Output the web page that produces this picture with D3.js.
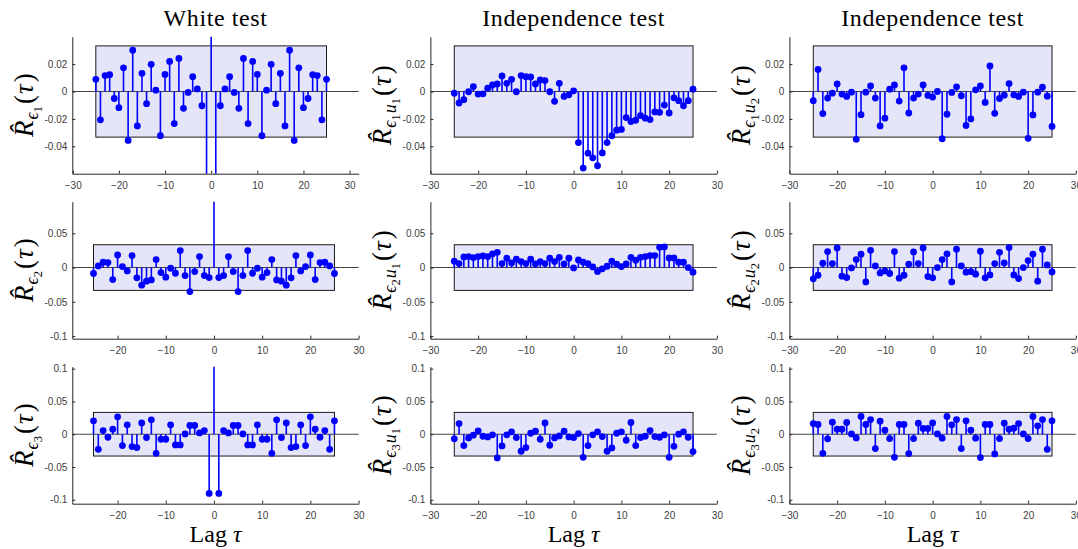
<!DOCTYPE html>
<html>
<head>
<meta charset="utf-8">
<script src="https://cdn.jsdelivr.net/npm/d3@7"></script>
<style>
  body { margin: 0; background: #fff; }
</style>
</head>
<body>
<div id="canvas"></div>
<script>
"use strict"

/* Lags shown in every panel */
let lags = d3.range(-25, 26);

/* 95% confidence bound (half height of the shaded box) */
let confBound = 0.0333;

/* Column titles */
let colTitles = ["White test", "Independence test", "Independence test"];

/* Autocorrelation of residual 1 and cross correlations with inputs u1, u2 (lag -25..25) */
let rE1 = [0.0089, -0.0207, 0.0116, 0.0123, -0.0051, -0.0118, 0.0173, -0.0357, 0.0301, -0.0251,
    0.0133, -0.0089, 0.0198, 0.0010, -0.0323, 0.0125, 0.0219, -0.0234, 0.0241, -0.0123,
    -0.0007, 0.0108, 0.0019, -0.0104, -0.0900, 1, -0.0900, -0.0104, 0.0019, 0.0108,
    -0.0007, -0.0123, 0.0241, -0.0234, 0.0219, 0.0125, -0.0323, 0.0010, 0.0198, -0.0089,
    0.0133, -0.0251, 0.0301, -0.0357, 0.0173, -0.0118, -0.0051, 0.0123, 0.0116, -0.0207, 0.0089];
let rE1U1 = [-0.0012, -0.0084, -0.0060, -0.0002, 0.0036, -0.0019, -0.0017, 0.0024, 0.0048, 0.0055,
    0.0113, 0.0060, 0.0089, -0.0002, 0.0116, 0.0108, 0.0106, 0.0055, 0.0084, 0.0080,
    -0.0002, -0.0072, 0.0060, -0.0036, -0.0024, 0.0005, -0.0373, -0.0559, -0.0450, -0.0484,
    -0.0542, -0.0448, -0.0373, -0.0323, -0.0282, -0.0277, -0.0190, -0.0219, -0.0210, -0.0176,
    -0.0195, -0.0205, -0.0149, -0.0152, -0.0099, -0.0157, -0.0046, -0.0067, -0.0104, -0.0067, 0.0017];
let rE1U2 = [-0.0067, 0.0161, -0.0161, -0.0048, -0.0012, 0.0055, -0.0019, -0.0036, -0.0005, -0.0349,
    -0.0169, -0.0005, 0.0041, -0.0048, -0.0251, -0.0195, 0.0017, 0.0048, -0.0070, 0.0173,
    -0.0157, -0.0048, -0.0019, 0.0048, -0.0029, -0.0041, 0.0000, -0.0345, -0.0166, -0.0007,
    0.0034, -0.0031, -0.0248, -0.0200, 0.0012, 0.0041, -0.0080, 0.0186, -0.0159, -0.0051,
    -0.0027, 0.0058, -0.0024, -0.0036, -0.0005, -0.0342, -0.0171, -0.0005, 0.0031, -0.0034, -0.0255];

/* Residual 2 */
let rE2 = [-0.0087, 0.0024, 0.0078, 0.0073, -0.0175, 0.0184, 0.0015, -0.0049, 0.0175, -0.0150,
    -0.0257, -0.0199, -0.0180, 0.0117, -0.0073, -0.0141, -0.0010, -0.0083, 0.0248, -0.0117,
    -0.0350, -0.0058, 0.0160, -0.0117, -0.0146, 1, -0.0146, -0.0117, 0.0160, -0.0058,
    -0.0350, -0.0117, 0.0248, -0.0083, -0.0010, -0.0141, -0.0073, 0.0117, -0.0180, -0.0199,
    -0.0257, -0.0150, 0.0175, -0.0049, 0.0015, 0.0184, -0.0175, 0.0073, 0.0078, 0.0024, -0.0087];
let rE2U1 = [0.0092, 0.0058, 0.0155, 0.0160, 0.0146, 0.0160, 0.0170, 0.0160, 0.0199, 0.0223,
    0.0058, 0.0136, 0.0068, 0.0121, 0.0087, 0.0058, 0.0121, 0.0053, 0.0087, 0.0058,
    0.0136, 0.0087, 0.0150, 0.0053, 0.0136, -0.0005, 0.0112, 0.0078, 0.0058, 0.0010,
    -0.0058, -0.0019, 0.0019, 0.0092, 0.0049, 0.0015, 0.0053, 0.0150, 0.0107, 0.0150,
    0.0160, 0.0175, 0.0175, 0.0296, 0.0301, 0.0141, 0.0141, 0.0078, 0.0078, 0.0000, -0.0068];
let rE2U2 = [-0.0165, -0.0112, 0.0063, 0.0233, 0.0058, 0.0286, -0.0126, -0.0146, -0.0005, 0.0117,
    0.0194, -0.0209, 0.0252, 0.0024, -0.0078, -0.0049, -0.0087, 0.0233, -0.0155, -0.0112,
    0.0049, 0.0228, 0.0058, 0.0286, -0.0131, -0.0150, 0.0000, 0.0117, 0.0199, -0.0209,
    0.0267, 0.0024, -0.0068, -0.0058, -0.0097, 0.0238, -0.0150, -0.0107, 0.0058, 0.0223,
    0.0068, 0.0291, -0.0107, -0.0160, 0.0000, 0.0102, 0.0194, -0.0199, 0.0267, 0.0039, -0.0063];

/* Residual 3 */
let rE3 = [0.0204, -0.0230, 0.0056, -0.0046, 0.0077, 0.0265, -0.0173, 0.0143, -0.0189, -0.0204,
    0.0173, -0.0051, 0.0219, -0.0291, -0.0077, -0.0077, 0.0143, -0.0163, -0.0163, 0.0005,
    0.0133, 0.0133, 0.0020, 0.0056, -0.0903, 1, -0.0903, 0.0056, 0.0020, 0.0133,
    0.0133, 0.0005, -0.0163, -0.0163, 0.0143, -0.0077, -0.0077, -0.0291, 0.0219, -0.0051,
    0.0173, -0.0204, -0.0189, 0.0143, -0.0173, 0.0265, 0.0077, -0.0046, 0.0056, -0.0230, 0.0204];
let rE3U1 = [-0.0071, 0.0163, -0.0173, -0.0056, -0.0015, 0.0051, -0.0031, -0.0041, -0.0010, -0.0362,
    -0.0179, -0.0010, 0.0036, -0.0051, -0.0260, -0.0204, 0.0015, 0.0046, -0.0077, 0.0173,
    -0.0168, -0.0056, -0.0026, 0.0046, -0.0041, -0.0051, 0.0010, -0.0352, -0.0173, -0.0010,
    0.0036, -0.0036, -0.0260, -0.0209, 0.0015, 0.0036, -0.0092, 0.0179, -0.0173, -0.0051,
    -0.0031, 0.0056, -0.0036, -0.0046, -0.0010, -0.0352, -0.0184, 0.0000, 0.0036, -0.0046, -0.0265];
let rE3U2 = [0.0163, 0.0148, -0.0291, -0.0071, 0.0184, 0.0077, 0.0077, 0.0179, 0.0005, -0.0056,
    0.0270, 0.0148, 0.0224, -0.0219, 0.0199, 0.0061, -0.0066, -0.0352, 0.0148, 0.0148,
    -0.0296, -0.0066, 0.0168, 0.0087, 0.0087, 0.0173, 0.0005, -0.0061, 0.0270, 0.0143,
    0.0224, -0.0219, 0.0204, 0.0061, -0.0061, -0.0357, 0.0148, 0.0148, -0.0301, -0.0066,
    0.0168, 0.0077, 0.0092, 0.0163, 0.0005, -0.0066, 0.0270, 0.0128, 0.0224, -0.0230, 0.0204];

/* Tick values */
let xTickValues = [-30, -20, -10, 0, 10, 20, 30];
let yTicksRow1 = [-0.04, -0.02, 0, 0.02];
let yTicksRow2 = [-0.1, -0.05, 0, 0.05];
let yTicksRow3 = [-0.1, -0.05, 0, 0.05, 0.1];

/* Grid of panels: row by row */
let panelValues = [[rE1, rE1U1, rE1U2], [rE2, rE2U1, rE2U2], [rE3, rE3U1, rE3U2]];
let rowYTicks = [yTicksRow1, yTicksRow2, yTicksRow3];
let rowYDomains = [[-0.06, 0.04], [-0.1038, 0.0961], [-0.106, 0.103]];

/* Configuration: drawing */
let svgWidth = 1078;
let svgHeight = 549;
let colLeft = [72.3, 430.4, 789.4];
let rowTop = [36.7, 201.7, 366.7];
let plotWidth = 286.5;
let plotHeight = 137;
let serif = "'Liberation Serif', 'DejaVu Serif', serif";

let svg = d3.select("#canvas")
    .append("svg")
    .attr("width", svgWidth)
    .attr("height", svgHeight);

/* x range differs slightly for the first column */
function xDomainFor(row, col) {
    if (col == 0 && row == 0) {
        return [-30.1, 32];
    }
    if (col == 0) {
        return [-29.4, 30.05];
    }
    return [-30, 30];
}

/* y label R-hat with subscripts, rotated */
function yLabel(x, y, parts) {
    let t = svg.append("text")
        .attr("transform", "translate(" + x + "," + y + ") rotate(-90)")
        .attr("text-anchor", "middle")
        .attr("font-family", serif)
        .attr("fill", "#000");
    let prev = 0;
    parts.forEach(function (p) {
        t.append("tspan")
            .attr("dx", p.gap || 0)
            .attr("dy", p.shift - prev)
            .attr("font-size", p.size)
            .attr("font-style", p.italic ? "italic" : "normal")
            .text(p.text);
        prev = p.shift;
    });
}

for (let r = 0; r < 3; r++) {
    for (let c = 0; c < 3; c++) {
        let x0 = colLeft[c];
        let y0 = rowTop[r];
        let values = panelValues[r][c];

        let xScale = d3.scaleLinear()
            .domain(xDomainFor(r, c))
            .range([x0, x0 + plotWidth]);
        let yScale = d3.scaleLinear()
            .domain(rowYDomains[r])
            .range([y0 + plotHeight, y0]);

        let clipId = "clip" + r + c;
        svg.append("clipPath")
            .attr("id", clipId)
            .append("rect")
            .attr("x", x0)
            .attr("y", y0)
            .attr("width", plotWidth)
            .attr("height", plotHeight);

        let g = svg.append("g").attr("clip-path", "url(#" + clipId + ")");

        /* confidence box */
        g.append("rect")
            .attr("x", xScale(-25))
            .attr("y", yScale(confBound))
            .attr("width", xScale(25) - xScale(-25))
            .attr("height", yScale(-confBound) - yScale(confBound))
            .attr("fill", "#e5e5fa")
            .attr("stroke", "#1a1a1a")
            .attr("stroke-width", 1);

        /* zero line */
        g.append("line")
            .attr("x1", x0)
            .attr("x2", x0 + plotWidth)
            .attr("y1", yScale(0))
            .attr("y2", yScale(0))
            .attr("stroke", "#444")
            .attr("stroke-width", 1.1);

        /* stems */
        g.selectAll(".stem")
            .data(values)
            .join("line")
            .attr("class", "stem")
            .attr("x1", function (d, i) { return xScale(lags[i]); })
            .attr("x2", function (d, i) { return xScale(lags[i]); })
            .attr("y1", yScale(0))
            .attr("y2", function (d) { return yScale(d); })
            .attr("stroke", "#0000ff")
            .attr("stroke-width", 1.6);

        /* markers */
        g.selectAll(".dot")
            .data(values)
            .join("circle")
            .attr("class", "dot")
            .attr("cx", function (d, i) { return xScale(lags[i]); })
            .attr("cy", function (d) { return yScale(d); })
            .attr("r", 3.4)
            .attr("fill", "#0000ff");

        /* axes: left and bottom only, ticks inward */
        let xTicks = xTickValues.filter(function (v) {
            let dm = xScale.domain();
            return v >= dm[0] && v <= dm[1];
        });
        let xAxis = svg.append("g")
            .attr("transform", "translate(0," + (y0 + plotHeight) + ")")
            .call(d3.axisBottom(xScale).tickValues(xTicks).tickSizeInner(-3).tickSizeOuter(0).tickPadding(8));
        let yAxis = svg.append("g")
            .attr("transform", "translate(" + x0 + ",0)")
            .call(d3.axisLeft(yScale).tickValues(rowYTicks[r]).tickSizeInner(-3).tickSizeOuter(0).tickPadding(5)
                .tickFormat(function (d) { return d == 0 ? "0" : String(d); }));

        [xAxis, yAxis].forEach(function (a) {
            a.select(".domain").attr("stroke", "#262626");
            a.selectAll(".tick line").attr("stroke", "#262626");
            a.selectAll(".tick text")
                .attr("fill", "#404040")
                .attr("font-family", "'Liberation Sans', Arial, sans-serif")
                .attr("font-size", 10);
        });

        /* y label */
        let k = String(r + 1);
        let parts = [
            { text: "R\u0302", size: 27, shift: 0, italic: true },
            { text: "\u03f5", size: 18, shift: 5, italic: true, gap: 1 },
            { text: k, size: 12.5, shift: 9, italic: false }
        ];
        if (c > 0) {
            parts.push({ text: "u", size: 18, shift: 5, italic: true, gap: 1 });
            parts.push({ text: String(c), size: 12.5, shift: 9, italic: false });
        }
        parts.push({ text: "(", size: 27, shift: 0, italic: false, gap: 2 });
        parts.push({ text: "\u03c4", size: 27, shift: 0, italic: true, gap: 1 });
        parts.push({ text: ")", size: 27, shift: 0, italic: false, gap: 2 });
        yLabel(x0 - 39, y0 + plotHeight / 2, parts);

        /* column title and x label */
        if (r == 0) {
            svg.append("text")
                .attr("x", x0 + plotWidth / 2)
                .attr("y", 26)
                .attr("text-anchor", "middle")
                .attr("font-family", serif)
                .attr("font-size", 24)
                .attr("letter-spacing", 0.6)
                .text(colTitles[c]);
        }
        if (r == 2) {
            let lab = svg.append("text")
                .attr("x", x0 + plotWidth / 2)
                .attr("y", 542)
                .attr("text-anchor", "middle")
                .attr("font-family", serif)
                .attr("font-size", 24);
            lab.append("tspan").text("Lag ");
            lab.append("tspan").attr("font-style", "italic").text("\u03c4");
        }
    }
}
</script>
</body>
</html>
